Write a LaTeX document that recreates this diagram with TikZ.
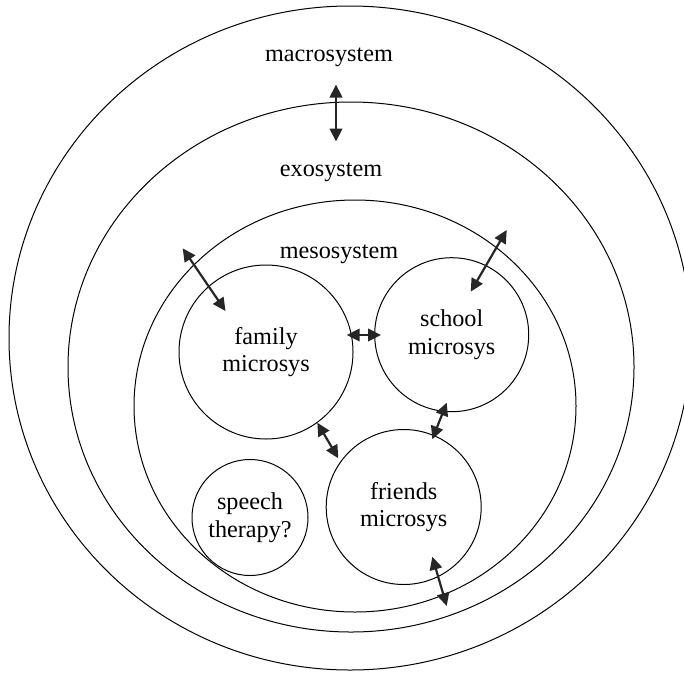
\documentclass[tikz,border=0pt]{standalone}
\usepackage{fontspec}
\setmainfont{Liberation Serif}
\usetikzlibrary{shapes.geometric, arrows.meta}

\begin{document}
\begin{tikzpicture}[x=1pt, y=-1pt,
        every node/.style={font=\fontsize{24.2}{27.7}\selectfont},
        ring/.style={ellipse, draw, line width=1pt, inner sep=0pt},
        micro/.style={circle, draw, line width=1pt, inner sep=0pt, align=center},
        lbl/.style={anchor=base, inner sep=0pt},
        link/.style={<->, >={Triangle[length=13pt,width=12.5pt]}, line width=2.2pt, draw=black!85}]
        \useasboundingbox (0,0) rectangle (684,672);

        % nested systems
        \node[ring, minimum width=682pt, minimum height=664pt] (macro) at (350,338) {};
        \node[ring, minimum width=566pt, minimum height=530pt] (exo) at (351,367) {};
        \node[ring, minimum width=442pt, minimum height=412pt] (meso) at (355,406) {};

        \node[lbl] (macrolbl) at (329,61.7) {macrosystem};
        \node[lbl] (exolbl) at (331,176.7) {exosystem};
        \node[lbl] (mesolbl) at (339,258.3) {mesosystem};

        % microsystems
        \node[micro, minimum size=174pt] (family) at (266,352) {family\\microsys};
        \node[micro, minimum size=154pt] (school) at (451.7,334.7) {school\\microsys};
        \node[micro, minimum size=155pt] (friends) at (403.7,507) {friends\\microsys};
        \node[micro, minimum size=116pt] (speech) at (250,517.5) {speech\\therapy?};

        % arrow ends
        \coordinate (ma1) at (336,84.5);    \coordinate (ma2) at (336,141.5);
        \coordinate (fm1) at (182.7,248.3); \coordinate (fm2) at (225.5,311);
        \coordinate (fs1) at (346.7,335);   \coordinate (fs2) at (381,335);
        \coordinate (sm1) at (506.7,230);   \coordinate (sm2) at (470.7,291.7);
        \coordinate (sf1) at (446.7,402.7); \coordinate (sf2) at (432.3,439.3);
        \coordinate (ff1) at (317.3,422.7); \coordinate (ff2) at (338.3,458.3);
        \coordinate (fe1) at (432.3,556.7); \coordinate (fe2) at (446.7,606);

        \foreach \i/\j in {ma1/ma2, fm1/fm2, fs1/fs2, sm1/sm2, sf1/sf2, ff1/ff2, fe1/fe2} {
            \draw[link] (\i) -- (\j);
        }
\end{tikzpicture}
\end{document}
